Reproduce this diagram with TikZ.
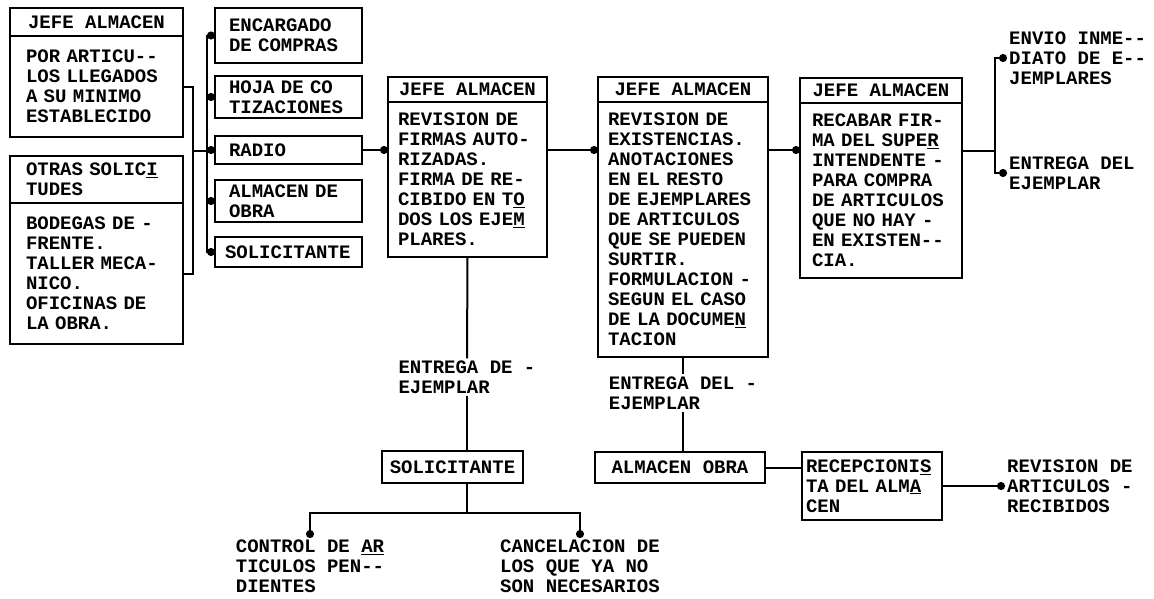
\documentclass[tikz,border=0pt]{standalone}
\usepackage{fontspec}
\newfontfamily\typewr{Liberation Mono}
\usetikzlibrary{arrows.meta}
\newcommand{\mecano}{\typewr\bfseries\fontsize{19}{20}\selectfont}

\begin{document}
\begin{tikzpicture}[x=1pt,y=-1pt,
  hdbox/.style={draw,line width=2.6pt,outer sep=0pt,inner sep=0pt,anchor=north west,font=\mecano},
  bdbox/.style={draw,line width=2.6pt,outer sep=0pt,inner xsep=12pt,inner ysep=0pt,anchor=north west,align=left,font=\mecano},
  note/.style={align=left,inner sep=2pt,font=\mecano},
  wire/.style={line width=2pt},
  arr/.style={wire,-{Circle[length=8pt]}}]
\useasboundingbox (0,0) rectangle (1154,598);
\fill[white] (0,0) rectangle (1154,598);
% solicitudes de entrada
\node[hdbox,minimum width=173pt,minimum height=28pt] (hdA) at (10,8) {JEFE ALMACEN};
\node[bdbox,inner xsep=16pt,text width=141pt,minimum height=101pt] (bdA) at (hdA.south west) {POR ARTICU--\\LOS LLEGADOS\\A SU MINIMO\\ESTABLECIDO};
\node[bdbox,inner xsep=16pt,text width=141pt,minimum height=47pt] (hdB) at (10,156) {OTRAS SOLIC\underline{I}\\TUDES};
\node[bdbox,inner xsep=16pt,text width=141pt,minimum height=141pt] (bdB) at (hdB.south west) {BODEGAS DE -\\FRENTE.\\TALLER MECA-\\NICO.\\OFICINAS DE\\LA OBRA.};
% medios
\node[bdbox,inner xsep=14pt,text width=119pt,minimum height=55pt] (enc) at (215,8) {ENCARGADO\\DE COMPRAS};
\node[bdbox,inner xsep=14pt,text width=119pt,minimum height=42pt] (hoja) at (215,76) {HOJA DE CO\\TIZACIONES};
\node[bdbox,inner xsep=14pt,text width=119pt,minimum height=28pt] (radio) at (215,136) {RADIO};
\node[bdbox,inner xsep=14pt,text width=119pt,minimum height=42pt] (almo) at (215,180) {ALMACEN DE\\OBRA};
\node[bdbox,inner xsep=10pt,text width=127pt,minimum height=30pt] (sol1) at (215,237) {SOLICITANTE};
% jefe almacen
\node[hdbox,minimum width=159pt,minimum height=25pt] (hdC) at (388,77) {JEFE ALMACEN};
\node[bdbox,inner xsep=10pt,text width=139pt,minimum height=155pt] (bdC) at (hdC.south west) {REVISION DE\\FIRMAS AUTO-\\RIZADAS.\\FIRMA DE RE-\\CIBIDO EN T\underline{O}\\DOS LOS EJE\underline{M}\\PLARES.};
\node[hdbox,minimum width=170pt,minimum height=25pt] (hdD) at (598,77) {JEFE ALMACEN};
\node[bdbox,inner xsep=10pt,text width=150pt,minimum height=255pt] (bdD) at (hdD.south west) {REVISION DE\\EXISTENCIAS.\\ANOTACIONES\\EN EL RESTO\\DE EJEMPLARES\\DE ARTICULOS\\QUE SE PUEDEN\\SURTIR.\\FORMULACION -\\SEGUN EL CASO\\DE LA DOCUME\underline{N}\\TACION};
\node[hdbox,minimum width=162pt,minimum height=25pt] (hdE) at (800,78) {JEFE ALMACEN};
\node[bdbox,text width=138pt,minimum height=175pt] (bdE) at (hdE.south west) {RECABAR FIR-\\MA DEL SUPE\underline{R}\\INTENDENTE -\\PARA COMPRA\\DE ARTICULOS\\QUE NO HAY -\\EN EXISTEN--\\CIA.};
% salidas
\node[note,anchor=west] (env) at (1007,58) {ENVIO INME--\\DIATO DE E--\\JEMPLARES};
\node[note,anchor=west] (ent1) at (1007,173) {ENTREGA DEL\\EJEMPLAR};
\node[note] (lbl1) at (467,377) {ENTREGA DE -\\EJEMPLAR};
\node[hdbox,minimum width=141pt,minimum height=32pt] (sol2) at (382,451) {SOLICITANTE};
\node[note,anchor=north] (ctl) at (310,538) {CONTROL DE \underline{AR}\\TICULOS PEN--\\DIENTES};
\node[note,anchor=north] (can) at (580,538) {CANCELACION DE\\LOS QUE YA NO\\SON NECESARIOS};
\node[note] (lbl2) at (683,393) {ENTREGA DEL -\\EJEMPLAR};
\node[hdbox,minimum width=170pt,minimum height=31pt] (almo2) at (595,452) {ALMACEN OBRA};
\node[bdbox,inner xsep=4pt,text width=132pt,minimum height=68pt] (rec) at (802,452) {RECEPCIONI\underline{S}\\TA DEL ALM\underline{A}\\CEN};
\node[note,anchor=west] (rev2) at (1005,486) {REVISION DE\\ARTICULOS -\\RECIBIDOS};
% conexiones
\coordinate (jn1) at (193,151);
\coordinate (jn2) at (207,151);
\coordinate (jn3) at (995,151);
\coordinate (jn4) at (467,513);
\draw[wire] (bdA.east) -| (jn1) |- (bdB.east);
\draw[wire] (jn1) -- (jn2);
\foreach \n in {enc,hoja,radio,almo,sol1}
  \draw[arr] (jn2) |- (\n.west);
\draw[arr] (radio.east) -- (radio.east -| bdC.west);
\draw[arr] (bdC.east |- radio.east) -- (bdD.west |- radio.east);
\draw[arr] (bdD.east |- radio.east) -- (bdE.west |- radio.east);
\draw[wire] (bdE.east |- jn3) -- (jn3);
\draw[arr] (jn3) |- (env.west);
\draw[arr] (jn3) |- (ent1.west);
\draw[wire] (bdC.south) -- (lbl1.north);
\draw[wire] (lbl1.south) -- (lbl1.south |- sol2.north);
\draw[wire] (lbl1.south |- sol2.south) -- (jn4);
\draw[arr] (jn4) -| (ctl.north);
\draw[arr] (jn4) -| (can.north);
\draw[wire] (bdD.south) -- (lbl2.north);
\draw[wire] (lbl2.south) -- (lbl2.south |- almo2.north);
\draw[wire] (almo2.east) -- (almo2.east -| rec.west);
\draw[arr] (rec.east) -- (rev2.west);
\end{tikzpicture}
\end{document}
